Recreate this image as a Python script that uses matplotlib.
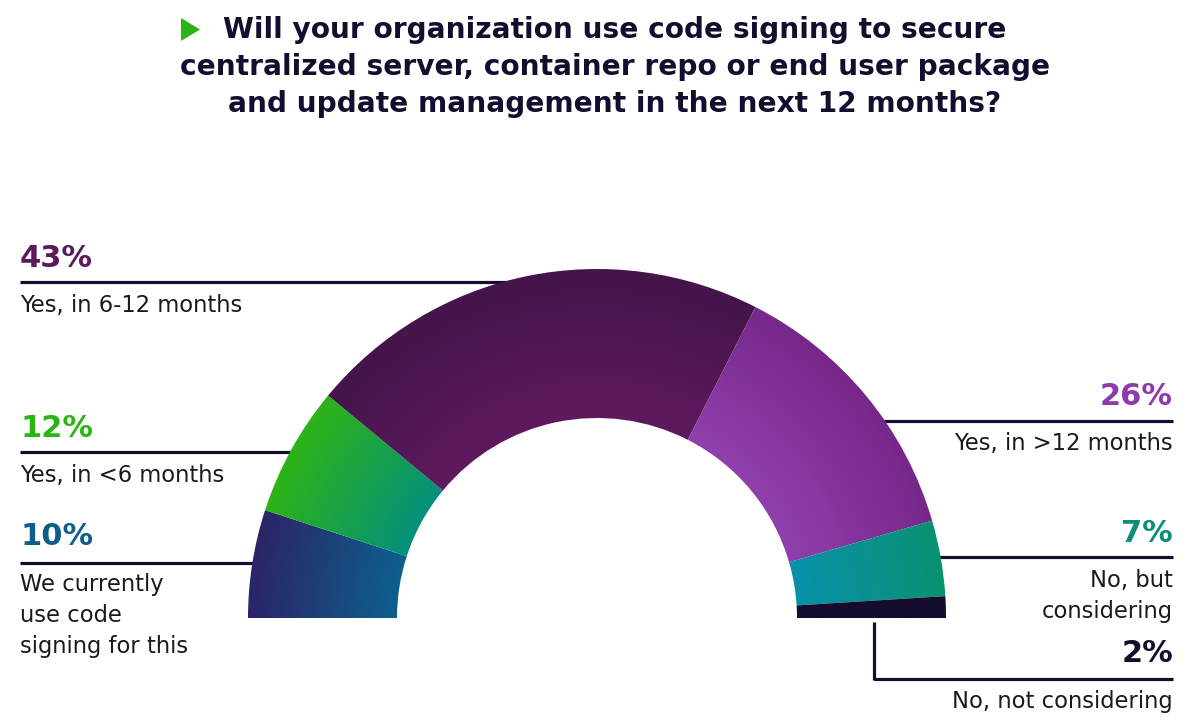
import numpy as np
import matplotlib
matplotlib.use("Agg")
import matplotlib.pyplot as plt
from matplotlib.patches import Wedge, Polygon
from matplotlib.colors import to_rgb

# ---------------- data ----------------
categories = ["We currently\nuse code\nsigning for this",
              "Yes, in <6 months",
              "Yes, in 6-12 months",
              "Yes, in >12 months",
              "No, but\nconsidering",
              "No, not considering"]
values = [10, 12, 43, 26, 7, 2]
title_lines = ["Will your organization use code signing to secure",
               "centralized server, container repo or end user package",
               "and update management in the next 12 months?"]

# ---------------- styles ----------------
outer_cols = ["#2c2567", "#2db417", "#44144a", "#76288a", "#0a9272", "#150c2e"]
inner_cols = ["#0d5f8e", "#05907c", "#5f1a5f", "#9040ad", "#0890aa", "#150c2e"]
pct_cols = ["#0e5e8c", "#2ab515", "#5a1a5c", "#8e3aaa", "#0b8f7a", "#150c2e"]
line_col = "#150c2e"
text_col = "#1a1a1a"
FONT = "DejaVu Sans"

W, H = 1200, 727
fig = plt.figure(figsize=(W / 100, H / 100), dpi=100)
ax = fig.add_axes([0, 0, 1, 1])
ax.set_xlim(0, W)
ax.set_ylim(H, 0)
ax.set_aspect("equal")
ax.axis("off")

cx, cy = 597, 618
R, r = 349, 200

# radial parameter for gradients
xs = np.linspace(cx - R - 2, cx + R + 2, 800)
ys = np.linspace(cy - R - 2, cy + 2, 420)
XX, YY = np.meshgrid(xs, ys)
t = np.clip((np.hypot(XX - cx, YY - cy) - r) / (R - r), 0, 1)[..., None]

total = float(sum(values))
cum = 0.0
for v, co, ci in zip(values, outer_cols, inner_cols):
    th1 = 180 + 180 * cum / total
    cum += v
    th2 = 180 + 180 * cum / total
    w = Wedge((cx, cy), R, th1, th2, width=R - r, facecolor="none",
              edgecolor="none", zorder=3)
    ax.add_patch(w)
    img = np.array(to_rgb(ci)) + t * (np.array(to_rgb(co)) - np.array(to_rgb(ci)))
    im = ax.imshow(img, extent=(xs[0], xs[-1], ys[-1], ys[0]),
                   interpolation="bilinear", zorder=3)
    im.set_clip_path(w)

# ---------------- labels & leader lines ----------------
# (side, pct baseline, line y, first label baseline, line start/end x)
layout = [
    ("L", 545, 563, 591, 20, 300),
    ("L", 437, 452, 482, 20, 330),
    ("L", 267, 282, 312, 20, 560),
    ("R", 405, 421, 450, 850, 1173),
    ("R", 542, 557, 587, 900, 1173),
    ("R", 662, 679, 708, 874, 1173),
]
lh = 31
for i, (side, yp, yl, yt, x0, x1) in enumerate(layout):
    ax.plot([x0, x1], [yl, yl], color=line_col, lw=2.3, zorder=1,
            solid_capstyle="butt")
    if side == "L":
        tx, ha = 20, "left"
    else:
        tx, ha = 1173, "right"
    ax.text(tx, yp, f"{values[i]}%", fontsize=22, fontweight="bold",
            family=FONT, color=pct_cols[i], ha=ha, va="baseline")
    for k, line in enumerate(categories[i].split("\n")):
        ax.text(tx, yt + k * lh, line, fontsize=16.3, family=FONT,
                color=text_col, ha=ha, va="baseline")

# vertical part of the 2% leader
ax.plot([874, 874], [622, 680], color=line_col, lw=2.3, zorder=1,
        solid_capstyle="butt")

# ---------------- title ----------------
for k, line in enumerate(title_lines):
    ax.text(615, 38 + 37 * k, line, fontsize=20.2, fontweight="bold",
            family=FONT, color="#150c2e", ha="center", va="baseline")
ax.add_patch(Polygon([[181, 18], [181, 41], [200, 29.5]], closed=True,
                     facecolor="#2ab515", edgecolor="none"))

fig.savefig("out.png", dpi=100, facecolor="white")
